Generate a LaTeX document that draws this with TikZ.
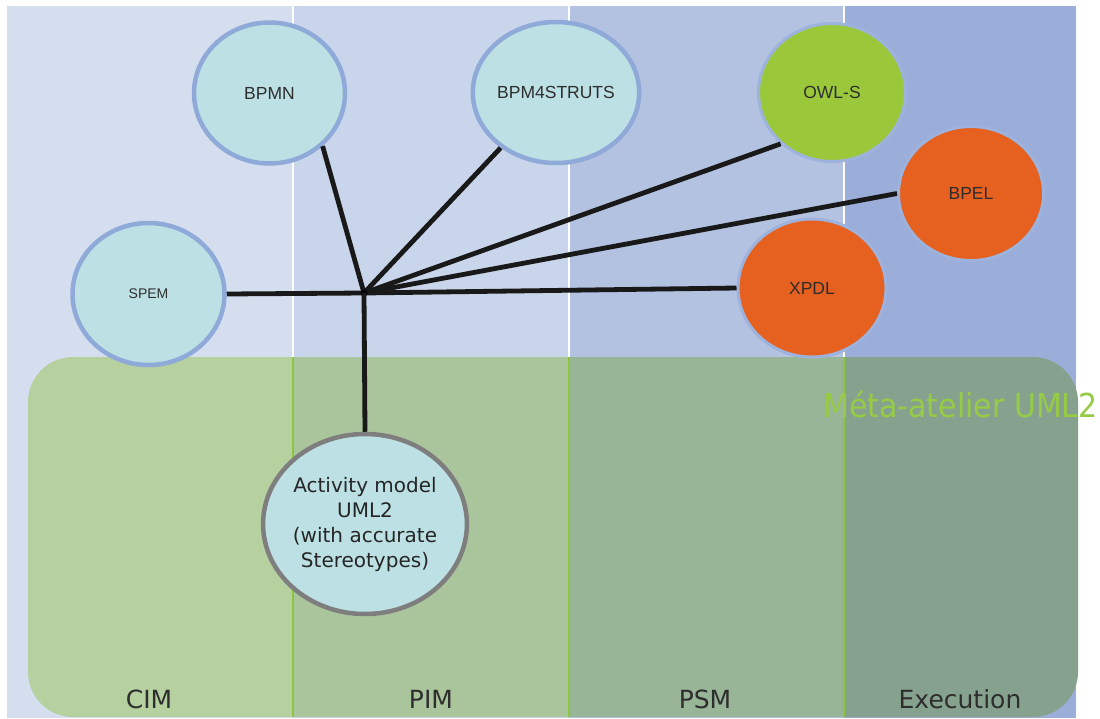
\documentclass[tikz,border=0pt]{standalone}
\usepackage{fontspec}
\setmainfont{DejaVu Sans}
\newfontfamily\circfont{Liberation Sans}
\newfontfamily\condfont{DejaVu Sans Condensed}
\usetikzlibrary{shapes.geometric}
\definecolor{bgA}{HTML}{D5DEEF}
\definecolor{bgB}{HTML}{C9D5EA}
\definecolor{bgC}{HTML}{B3C2E1}
\definecolor{bgD}{HTML}{9AAED9}
\definecolor{grA}{HTML}{B6D0A0}
\definecolor{grB}{HTML}{AAC59C}
\definecolor{grC}{HTML}{99B598}
\definecolor{grD}{HTML}{86A28E}
\definecolor{cyanfill}{HTML}{BCE0E3}
\definecolor{cyanborder}{HTML}{8FA9D9}
\definecolor{softborder}{HTML}{9DB3DD}
\definecolor{owlgreen}{HTML}{9BC83A}
\definecolor{orangefill}{HTML}{E6601F}
\definecolor{metagreen}{HTML}{96CC45}
\definecolor{gline}{HTML}{8CC63F}
\definecolor{txtgray}{HTML}{2E2E2E}
\definecolor{actborder}{HTML}{7E7E7E}
\begin{document}
\begin{tikzpicture}[x=1pt,y=-1pt,
  bubble/.style={ellipse, inner sep=0pt, text=txtgray,
    font=\circfont\fontsize{17.5}{20}\selectfont},
  cyanc/.style={bubble, fill=cyanfill, draw=cyanborder, line width=4.5pt},
  softc/.style={bubble, draw=softborder, line width=3pt},
  edge/.style={line width=4.8pt, draw=black!90},
  phase/.style={anchor=base, inner sep=0pt, text=txtgray,
    font=\fontsize{25}{30}\selectfont},
  divider/.style={draw=white, line width=2pt},
  gdivider/.style={draw=gline, line width=2.5pt}]
\useasboundingbox (0,0) rectangle (1100,718);
\fill[white] (0,0) rectangle (1100,718);
% background columns
\fill[bgA] (7,6) rectangle (293,718);
\fill[bgB] (293,6) rectangle (569,718);
\fill[bgC] (569,6) rectangle (844,718);
\fill[bgD] (844,6) rectangle (1076,718);
\draw[divider] (293,6) -- (293,357);
\draw[divider] (569,6) -- (569,357);
\draw[divider] (844,6) -- (844,357);
% green workshop area
\begin{scope}
  \clip[rounded corners=45pt] (28,357) rectangle (1078,717);
  \fill[grA] (0,357) rectangle (293,718);
  \fill[grB] (293,357) rectangle (569,718);
  \fill[grC] (569,357) rectangle (844,718);
  \fill[grD] (844,357) rectangle (1100,718);
\end{scope}
\draw[gdivider] (293,357) -- (293,717);
\draw[gdivider] (569,357) -- (569,717);
\draw[gdivider] (844,357) -- (844,717);
\node[anchor=base west, inner sep=0pt, text=metagreen,
  font=\condfont\fontsize{33}{36}\selectfont] (meta) at (823,417)
  {\scalebox{1.01}[1]{Méta-atelier UML2}};
% phase labels
\node[phase] (cim) at (149,708) {CIM};
\node[phase] (pim) at (431,708) {PIM};
\node[phase] (psm) at (705,708) {PSM};
\node[phase] (exe) at (960,708) {Execution};
% nodes
\coordinate (hub) at (364,293);
\node[cyanc, minimum width=151pt, minimum height=141pt] (bpmn) at (269.5,93) {BPMN};
\node[cyanc, minimum width=152pt, minimum height=141pt] (bpm4) at (556,92.5) {BPM4STRUTS};
\node[cyanc, minimum width=152pt, minimum height=142pt,
  font=\circfont\fontsize{14}{17}\selectfont] (spem) at (148.5,294) {SPEM};
\node[softc, fill=owlgreen, minimum width=147pt, minimum height=138pt] (owls) at (832,92.5) {OWL-S};
\node[softc, fill=orangefill, minimum width=145pt, minimum height=134pt] (bpel) at (971,193.5) {BPEL};
\node[softc, fill=orangefill, minimum width=148pt, minimum height=138pt] (xpdl) at (812,288) {XPDL};
% connectors
\draw[edge] (hub) -- (bpmn.-45);
\draw[edge] (hub) -- (bpm4.-135);
\draw[edge] (hub) -- (owls.-135);
\draw[edge] (hub) -- (bpel.west);
\draw[edge] (hub) -- (xpdl.west);
\draw[edge] (hub) -- (spem.east);
\fill[black] (hub) circle (3.5pt);
\node[ellipse, fill=cyanfill, draw=actborder, line width=4.5pt, inner sep=0pt,
  minimum width=196pt, minimum height=180pt, align=center, text=black!85,
  font=\fontsize{20}{25}\selectfont] (act) at (365,524)
  {Activity model\\UML2\\(with accurate\\Stereotypes)};
\draw[edge] (hub) -- (act.north);
\end{tikzpicture}
\end{document}
